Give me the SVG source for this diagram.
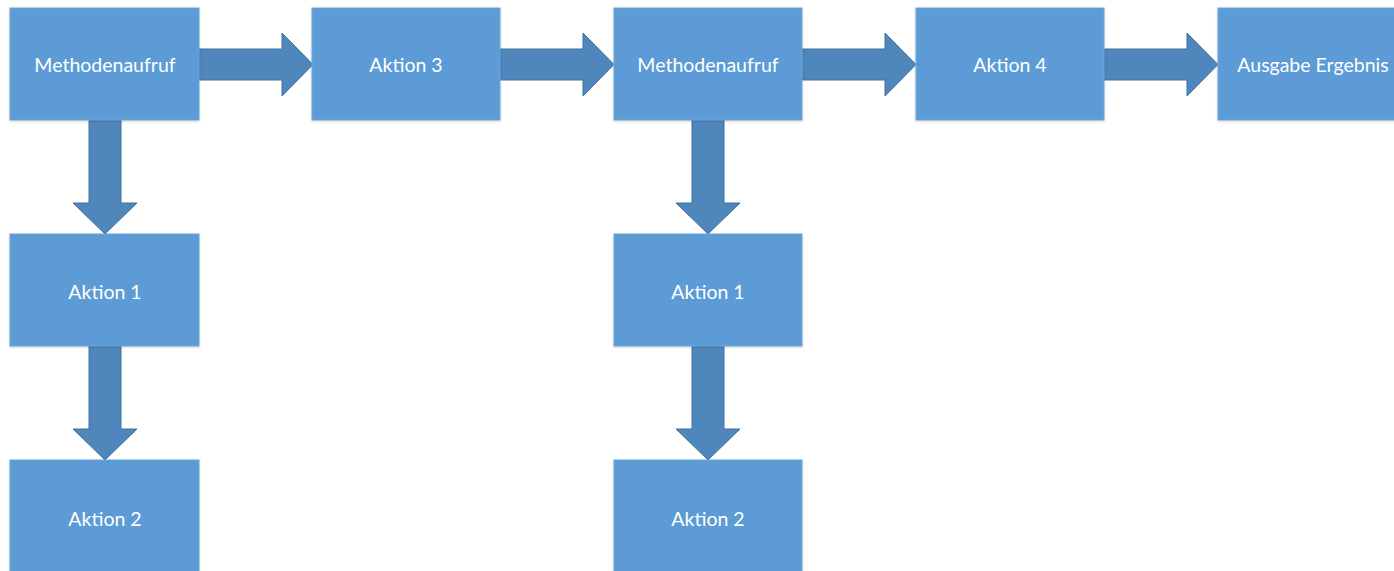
<svg xmlns="http://www.w3.org/2000/svg" width="1394" height="571" viewBox="0 0 1394 571">
<defs>
<style>
.box{fill:#5B9BD5;stroke:#6FA6DA;stroke-width:1}
.lbl{fill:#fff;font-family:Lato,"Open Sans",sans-serif;font-size:19.5px;text-anchor:middle;dominant-baseline:central}
.arr{fill:#4F87BD;stroke:#41719C;stroke-width:1}
</style>
<filter id="sh" x="-10%" y="-10%" width="120%" height="120%"><feDropShadow dx="0" dy="1" stdDeviation="1.2" flood-color="#000" flood-opacity="0.18"/></filter>
</defs>
<rect width="1394" height="571" fill="#fff"/>
<g id="connectors">
<path class="arr" d="M199,49 H282 V33 L313,64.5 L282,96 V80 H199 Z"/>
<path class="arr" d="M500,49 H583 V33 L614,64.5 L583,96 V80 H500 Z"/>
<path class="arr" d="M802,49 H885 V33 L916,64.5 L885,96 V80 H802 Z"/>
<path class="arr" d="M1104,49 H1187 V33 L1218,64.5 L1187,96 V80 H1104 Z"/>
<path class="arr" d="M89,120 V203 H73 L105,234 L137,203 H121 V120 Z"/>
<path class="arr" d="M89,346 V429 H73 L105,460 L137,429 H121 V346 Z"/>
<path class="arr" d="M692,120 V203 H676 L708,234 L740,203 H724 V120 Z"/>
<path class="arr" d="M692,346 V429 H676 L708,460 L740,429 H724 V346 Z"/>
</g>
<g id="n1"><rect class="box" filter="url(#sh)" x="10" y="8" width="189" height="112"/><text class="lbl" x="105" y="64">Methodenaufruf</text></g>
<g id="n2"><rect class="box" filter="url(#sh)" x="312" y="8" width="188" height="112"/><text class="lbl" x="406" y="64">Aktion 3</text></g>
<g id="n3"><rect class="box" filter="url(#sh)" x="614" y="8" width="188" height="112"/><text class="lbl" x="708" y="64">Methodenaufruf</text></g>
<g id="n4"><rect class="box" filter="url(#sh)" x="916" y="8" width="188" height="112"/><text class="lbl" x="1010" y="64">Aktion 4</text></g>
<g id="n5"><rect class="box" filter="url(#sh)" x="1218" y="8" width="188" height="112"/><text class="lbl" x="1313" y="64">Ausgabe Ergebnis</text></g>
<g id="n6"><rect class="box" filter="url(#sh)" x="10" y="234" width="189" height="112"/><text class="lbl" x="105" y="291">Aktion 1</text></g>
<g id="n7"><rect class="box" filter="url(#sh)" x="10" y="460" width="189" height="112"/><text class="lbl" x="105" y="518">Aktion 2</text></g>
<g id="n8"><rect class="box" filter="url(#sh)" x="614" y="234" width="188" height="112"/><text class="lbl" x="708" y="291">Aktion 1</text></g>
<g id="n9"><rect class="box" filter="url(#sh)" x="614" y="460" width="188" height="112"/><text class="lbl" x="708" y="518">Aktion 2</text></g>
</svg>
